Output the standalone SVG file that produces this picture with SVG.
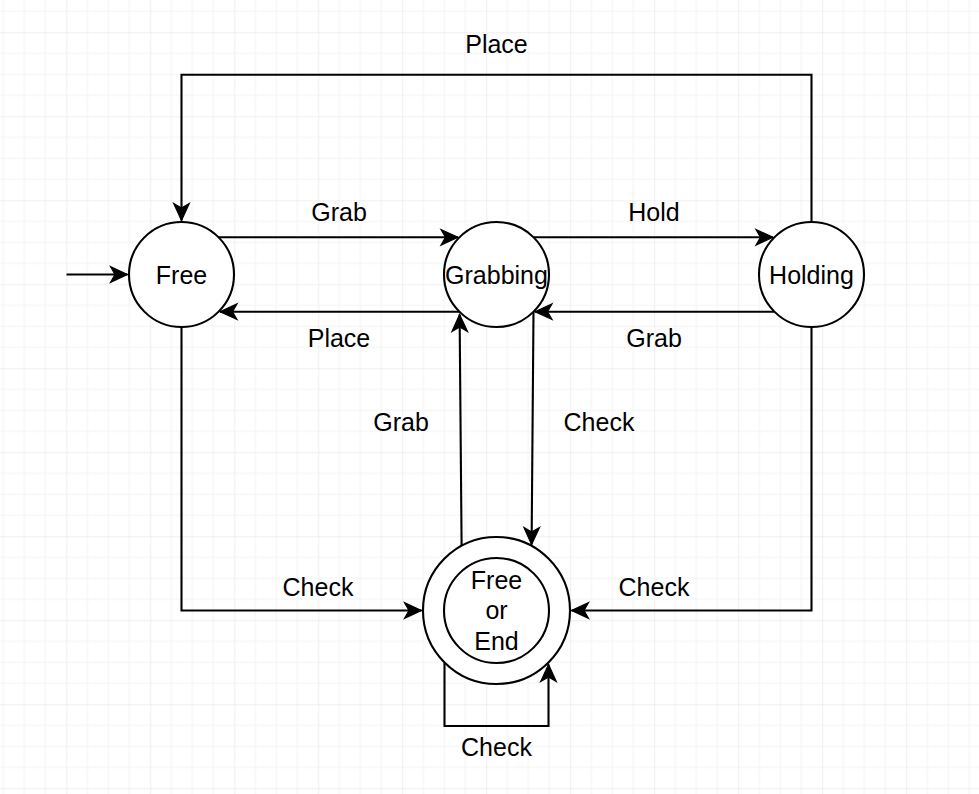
<svg xmlns="http://www.w3.org/2000/svg" width="979" height="794" viewBox="0 0 979 794">
<style>
.node{fill:#ffffff;stroke:#000000;stroke-width:2.1}
.edge{fill:none;stroke:#000000;stroke-width:2.1;marker-end:url(#arr)}
.lbl{font-family:"Liberation Sans",Arial,sans-serif;font-size:25px;fill:#000000;text-anchor:middle}
</style>
<defs>
<pattern id="grid" patternUnits="userSpaceOnUse" x="66.3" y="32.3" width="84" height="84">
<path d="M21,0V84M42,0V84M63,0V84M0,21H84M0,42H84M0,63H84" stroke="#f3f3f3" stroke-width="1" fill="none"/>
<path d="M0,0V84M0,0H84" stroke="#e2e2e2" stroke-width="1" fill="none"/>
</pattern>
<marker id="arr" markerUnits="userSpaceOnUse" viewBox="-20 -10 24 20" markerWidth="24" markerHeight="20" refX="0" refY="0" orient="auto" overflow="visible">
<path d="M0,0 L-17,-7.8 L-12.5,0 L-17,7.8 Z" fill="#000000" stroke="#000000" stroke-width="1.2" stroke-linejoin="miter"/>
</marker>
</defs>
<rect x="0" y="0" width="979" height="794" fill="#ffffff"/>
<rect x="0" y="0" width="979" height="794" fill="url(#grid)"/>
<g id="connectors">
<path class="edge" d="M66.5,274.5 H127.5"/>
<path class="edge" d="M811.5,222 V74.7 H181.5 V220.5"/>
<path class="edge" d="M218.5,237.3 H458"/>
<path class="edge" d="M459.5,311.7 H220"/>
<path class="edge" d="M533.5,237.3 H773"/>
<path class="edge" d="M774.5,311.7 H535"/>
<path class="edge" d="M181.5,327 V610.5 H421.5"/>
<path class="edge" d="M811.5,327 V610.5 H571.5"/>
<path class="edge" d="M461.6,546 L459.6,314.5"/>
<path class="edge" d="M533.5,311.7 L531.6,544.5"/>
<path class="edge" d="M444.5,662.5 V726 H548.5 V664.5"/>
<text class="lbl" x="496.5" y="53">Place</text>
<text class="lbl" x="339" y="220.5">Grab</text>
<text class="lbl" x="654" y="220.5">Hold</text>
<text class="lbl" x="339" y="347">Place</text>
<text class="lbl" x="654" y="347">Grab</text>
<text class="lbl" x="401" y="430.5">Grab</text>
<text class="lbl" x="599" y="430.5">Check</text>
<text class="lbl" x="318" y="596">Check</text>
<text class="lbl" x="654" y="596">Check</text>
<text class="lbl" x="496.5" y="755.5">Check</text>
</g>
<g id="node-free">
<circle class="node" cx="181.5" cy="274.5" r="52.5"/>
<text class="lbl" x="181.5" y="283.5">Free</text>
</g>
<g id="node-grabbing">
<circle class="node" cx="496.5" cy="274.5" r="52.5"/>
<text class="lbl" x="496.5" y="283.5">Grabbing</text>
</g>
<g id="node-holding">
<circle class="node" cx="811.5" cy="274.5" r="52.5"/>
<text class="lbl" x="811.5" y="283.5">Holding</text>
</g>
<g id="node-end">
<circle class="node" cx="496.5" cy="610.5" r="73.5"/>
<circle class="node" cx="496.5" cy="610.5" r="52.5"/>
<text class="lbl" x="496.5" y="589">Free</text>
<text class="lbl" x="496.5" y="619.3">or</text>
<text class="lbl" x="496.5" y="649.5">End</text>
</g>
</svg>
